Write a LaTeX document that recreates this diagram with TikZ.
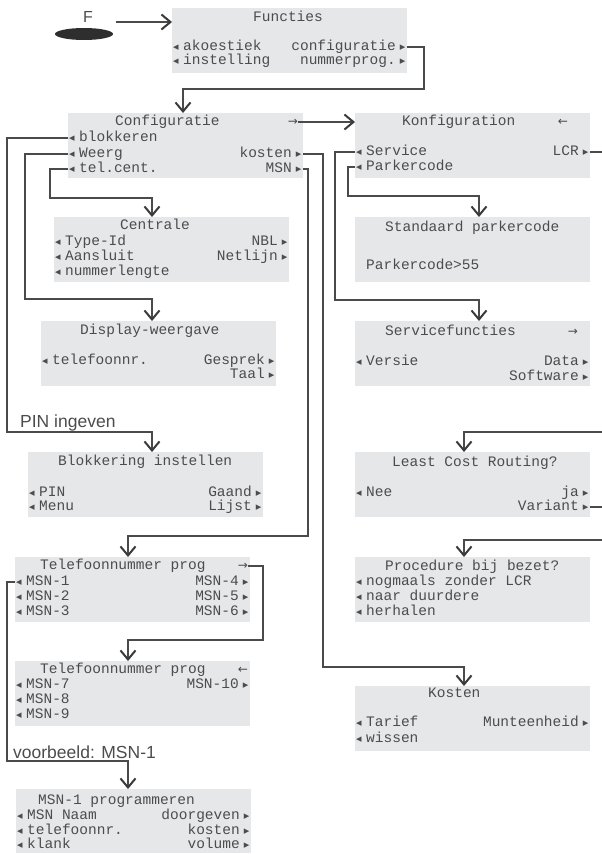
\documentclass[tikz,border=0pt]{standalone}
\usepackage{fontspec}
\setmainfont{Liberation Sans}
\newfontfamily\lcdf{Liberation Mono}
\newfontfamily\symf{DejaVu Sans}
\usetikzlibrary{arrows.meta,calc,shapes.geometric}
\definecolor{boxgray}{HTML}{E6E7E8}
\definecolor{txtgray}{HTML}{4C4C4C}
\definecolor{lngray}{HTML}{4A4A4A}
\definecolor{tipgray}{HTML}{3A3A3A}
\definecolor{btngray}{HTML}{2E2E2E}
\newcommand\lcdfont{\lcdf\fontsize{14.5}{15}\selectfont}
\newcommand\Ltri{\makebox[11pt][l]{\hspace{1pt}{\symf\fontsize{11}{11}\selectfont ◂}}}
\newcommand\Rtri{\makebox[11pt][r]{{\symf\fontsize{11}{11}\selectfont ▸}\hspace{1.5pt}}}
\newcommand\arR{{\symf\fontsize{12}{12}\selectfont →}}
\newcommand\arL{{\symf\fontsize{12}{12}\selectfont ←}}
\begin{document}
\begin{tikzpicture}[x=1pt,y=-1pt,
  box/.style={fill=boxgray, draw=none, minimum width=235pt, minimum height=65pt, inner sep=0pt, anchor=north west},
  lcd/.style={font=\lcdfont, text=txtgray, inner sep=0pt, text height=8pt, text depth=2pt},
  li/.style={lcd, anchor=west},
  ri/.style={lcd, anchor=east},
  ti/.style={lcd, anchor=west},
  ar/.style={lcd, anchor=center},
  conn/.style={draw=lngray, line width=1.1pt},
  arr/.style={conn, -{Straight Barb[length=9pt,width=15pt,line width=2pt,color=tipgray]}},
  lbl/.style={font=\fontsize{17.5}{17.5}\selectfont, text=txtgray, inner sep=0pt, anchor=base west}]
\useasboundingbox (0,0) rectangle (602,854);

% F button
\node[ellipse, fill=btngray, minimum width=58pt, minimum height=12pt, inner sep=0pt] (btn) at (84,34) {};
\node[font=\fontsize{16}{16}\selectfont, text=txtgray, inner sep=0pt] (Flbl) at (88,17) {F};

% Functies
\node[box] (fun) at (172,8) {};
\node[ti] (funT) at (253,18) {Functies};
\node[li] (fak) at (172,47) {\Ltri akoestiek};
\node[li] (fin) at (172,61) {\Ltri instelling};
\node[ri] (fconf) at (407,47) {configuratie\Rtri};
\node[ri] (fnum) at (407,61) {nummerprog.\Rtri};

% Configuratie
\node[box] (conf) at (68,113) {};
\node[ti] (confT) at (115,122) {Configuratie};
\node[ar] (carr) at (293,122) {\arR};
\node[li] (cblok) at (68,138) {\Ltri blokkeren};
\node[li] (cweerg) at (68,154) {\Ltri Weerg};
\node[li] (ctel) at (68,169) {\Ltri tel.cent.};
\node[ri] (ckost) at (303,154) {kosten\Rtri};
\node[ri] (cmsn) at (303,169) {MSN\Rtri};

% Konfiguration
\node[box] (konf) at (355,113) {};
\node[ti] (konfT) at (402,122) {Konfiguration};
\node[ar] (karr) at (563,122) {\arL};
\node[li] (kserv) at (355,152) {\Ltri Service};
\node[li] (kpark) at (355,167) {\Ltri Parkercode};
\node[ri] (klcr) at (590,152) {LCR\Rtri};

% Centrale
\node[box] (cent) at (54,217) {};
\node[ti] (centT) at (120,226) {Centrale};
\node[li] (ctype) at (54,242) {\Ltri Type-Id};
\node[li] (caan) at (54,257) {\Ltri Aansluit};
\node[li] (cnum) at (54,272) {\Ltri nummerlengte};
\node[ri] (cnbl) at (289,242) {NBL\Rtri};
\node[ri] (cnet) at (289,257) {Netlijn\Rtri};

% Standaard parkercode
\node[box] (park) at (355,217) {};
\node[ti] (parkT) at (385,228) {Standaard parkercode};
\node[ti] (pval) at (366,266) {Parkercode>55};

% Display
\node[box] (disp) at (41,321) {};
\node[ti] (dispT) at (80,331) {Display-weergave};
\node[li] (dtel) at (41,361) {\Ltri telefoonnr.};
\node[ri] (dges) at (276,361) {Gesprek\Rtri};
\node[ri] (dtaal) at (276,375) {Taal\Rtri};

% Servicefuncties
\node[box] (serv) at (355,321) {};
\node[ti] (servT) at (385,332) {Servicefuncties};
\node[ar] (sarr) at (573,332) {\arR};
\node[li] (sver) at (355,362) {\Ltri Versie};
\node[ri] (sdata) at (590,362) {Data\Rtri};
\node[ri] (ssoft) at (590,377) {Software\Rtri};

% Blokkering
\node[box] (blok) at (28,452) {};
\node[ti] (blokT) at (58,462) {Blokkering instellen};
\node[li] (bpin) at (28,493) {\Ltri PIN};
\node[li] (bmenu) at (28,507) {\Ltri Menu};
\node[ri] (bgaand) at (263,493) {Gaand\Rtri};
\node[ri] (blijst) at (263,507) {Lijst\Rtri};

% Least Cost Routing
\node[box] (lcr) at (355,452) {};
\node[ti] (lcrT) at (392,463) {Least Cost Routing?};
\node[li] (lnee) at (355,493) {\Ltri Nee};
\node[ri] (lja) at (590,493) {ja\Rtri};
\node[ri] (lvar) at (590,507) {Variant\Rtri};

% Telefoonnummer prog 1
\node[box] (tel1) at (15,557) {};
\node[ti] (tel1T) at (40,566) {Telefoonnummer prog};
\node[ar] (tarr1) at (243,566) {\arR};
\node[li] (t1) at (15,582) {\Ltri MSN-1};
\node[li] (t2) at (15,597) {\Ltri MSN-2};
\node[li] (t3) at (15,612) {\Ltri MSN-3};
\node[ri] (t4) at (250,582) {MSN-4\Rtri};
\node[ri] (t5) at (250,597) {MSN-5\Rtri};
\node[ri] (t6) at (250,612) {MSN-6\Rtri};

% Procedure
\node[box] (proc) at (355,557) {};
\node[ti] (procT) at (385,567) {Procedure bij bezet?};
\node[li] (pnog) at (355,582) {\Ltri nogmaals zonder LCR};
\node[li] (pnaar) at (355,597) {\Ltri naar duurdere};
\node[li] (pher) at (355,612) {\Ltri herhalen};

% Telefoonnummer prog 2
\node[box] (tel2) at (15,661) {};
\node[ti] (tel2T) at (40,670) {Telefoonnummer prog};
\node[ar] (tarr2) at (243,670) {\arL};
\node[li] (t7) at (15,685) {\Ltri MSN-7};
\node[li] (t8) at (15,700) {\Ltri MSN-8};
\node[li] (t9) at (15,715) {\Ltri MSN-9};
\node[ri] (t10) at (250,685) {MSN-10\Rtri};

% Kosten
\node[box] (kost) at (355,686) {};
\node[ti] (kostT) at (428,694) {Kosten};
\node[li] (ktar) at (355,723) {\Ltri Tarief};
\node[li] (kwis) at (355,739) {\Ltri wissen};
\node[ri] (kmunt) at (590,723) {Munteenheid\Rtri};

% MSN-1 programmeren
\node[box, minimum height=64pt] (msn1) at (16,789) {};
\node[ti] (msn1T) at (38,801) {MSN-1 programmeren};
\node[li] (mnaam) at (16,816) {\Ltri MSN Naam};
\node[li] (mtel) at (16,831) {\Ltri telefoonnr.};
\node[li] (mklank) at (16,845) {\Ltri klank};
\node[ri] (mdoor) at (251,816) {doorgeven\Rtri};
\node[ri] (mkost) at (251,831) {kosten\Rtri};
\node[ri] (mvol) at (251,845) {volume\Rtri};

% labels
\node[lbl] (pinlbl) at (20,427) {PIN ingeven};
\node[lbl] (vblbl) at (13,758) {voorbeeld: MSN-1};

% helper coordinates
\coordinate (fstart) at (116,22);
\coordinate (k1) at (424,89);
\coordinate (k2) at (183,0);
\coordinate (k3) at (7,432);
\coordinate (k4) at (25,299);
\coordinate (k5) at (50,198);
\coordinate (k6) at (323,667);
\coordinate (k7) at (308,536);
\coordinate (k8) at (335,300);
\coordinate (k9) at (348,196);
\coordinate (k10) at (263,640);
\coordinate (k11) at (7,761);
\coordinate (x152) at (152,0);
\coordinate (x128) at (128,0);
\coordinate (x464) at (464,0);
\coordinate (x479) at (479,0);
\coordinate (edge) at (602,0);
\coordinate (e1) at (602,432);
\coordinate (e2) at (602,540);

% connectors
\draw[arr] (fstart) -- (fstart -| fun.west);
\draw[arr] (fconf.east) -| (k1) -| (conf.north -| k2);
\draw[arr] (carr.east) -- (carr.east -| konf.west);
\draw[arr] (cblok.west) -| (k3) -| (blok.north -| x152);
\draw[arr] (cweerg.west) -| (k4) -| (disp.north -| x152);
\draw[arr] (ctel.west) -| (k5) -| (cent.north -| x152);
\draw[arr] (ckost.east) -| (k6) -| (kost.north -| x464);
\draw[arr] (cmsn.east) -| (k7) -| (tel1.north -| x128);
\draw[arr] (kserv.west) -| (k8) -| (serv.north -| x479);
\draw[arr] (kpark.west) -| (k9) -| (park.north -| x479);
\draw[conn] (klcr.east) -- (klcr.east -| edge);
\draw[arr] (e1) -| (lcr.north -| x464);
\draw[conn] (lvar.east) -- (lvar.east -| edge);
\draw[arr] (e2) -| (proc.north -| x464);
\draw[arr] (tarr1.east) -| (k10) -| (tel2.north -| x128);
\draw[arr] (t1.west) -| (k11) -| (msn1.north -| x128);
\end{tikzpicture}
\end{document}
